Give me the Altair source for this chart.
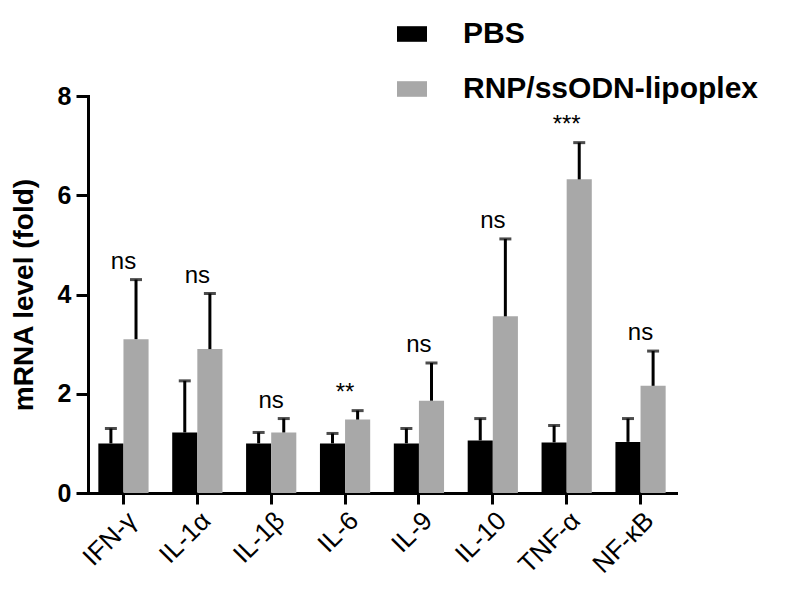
import altair as alt
import pandas as pd

categories = ["IFN-γ", "IL-1α", "IL-1β", "IL-6", "IL-9", "IL-10", "TNF-α", "NF-κB"]
groups = ["PBS", "RNP/ssODN-lipoplex"]
pbs_mean = [1.0, 1.22, 1.0, 1.0, 1.0, 1.06, 1.02, 1.03]
pbs_upper = [1.3, 2.26, 1.22, 1.2, 1.3, 1.5, 1.36, 1.5]
rnp_mean = [3.1, 2.9, 1.22, 1.48, 1.86, 3.56, 6.32, 2.16]
rnp_upper = [4.3, 4.02, 1.5, 1.66, 2.62, 5.12, 7.06, 2.86]
significance = ["ns", "ns", "ns", "**", "ns", "ns", "***", "ns"]

rows = []
for i, c in enumerate(categories):
    rows.append({"gene": c, "group": groups[0], "mean": pbs_mean[i], "upper": pbs_upper[i]})
    rows.append({"gene": c, "group": groups[1], "mean": rnp_mean[i], "upper": rnp_upper[i]})
df = pd.DataFrame(rows)

sig_df = pd.DataFrame({
    "gene": categories,
    "label": significance,
    "top": [max(a, b) for a, b in zip(pbs_upper, rnp_upper)],
})

FONT = "Liberation Sans"

x_enc = alt.X("gene:N", sort=categories,
              scale=alt.Scale(paddingInner=0.32, paddingOuter=0.14),
              axis=alt.Axis(title=None, labelAngle=-45, labelFontSize=26,
                            labelFont=FONT, labelColor="black", labelPadding=3,
                            labelAlign="right", labelBaseline="top",
                            domainWidth=3, domainColor="black", tickWidth=3,
                            tickColor="black", tickSize=11))
xoff = alt.XOffset("group:N", sort=groups, scale=alt.Scale(paddingInner=0, paddingOuter=0))

color_scale = alt.Scale(domain=groups, range=["#000000", "#a8a8a8"])

bars = alt.Chart(df).mark_bar().encode(
    x=x_enc,
    xOffset=xoff,
    y=alt.Y("mean:Q", scale=alt.Scale(domain=[0, 8]),
            axis=alt.Axis(title="mRNA level (fold)", values=[0, 2, 4, 6, 8],
                          titleFontSize=28, titleFont=FONT, titleFontWeight="bold",
                          titleColor="black", titlePadding=19,
                          labelFontSize=25, labelFont=FONT, labelFontWeight="bold",
                          labelColor="black", labelPadding=5,
                          domainWidth=3, domainColor="black", tickWidth=3,
                          tickColor="black", tickSize=12, grid=False)),
    color=alt.Color("group:N", scale=color_scale, sort=groups,
                    legend=alt.Legend(title=None, orient="none", legendX=309, legendY=-77,
                                      symbolType="M-1,-0.52L1,-0.52L1,0.52L-1,0.52Z",
                                      symbolSize=900, symbolStrokeWidth=0,
                                      labelFontSize=30, labelFont=FONT,
                                      labelFontWeight="bold", labelColor="black",
                                      labelOffset=36, rowPadding=25, labelLimit=500)),
)

rules = alt.Chart(df).mark_rule(color="black", strokeWidth=3).encode(
    x=alt.X("gene:N", sort=categories), xOffset=xoff,
    y="mean:Q", y2="upper:Q",
)

caps = alt.Chart(df).mark_tick(color="black", thickness=3, size=12, orient="horizontal").encode(
    x=alt.X("gene:N", sort=categories), xOffset=xoff,
    y="upper:Q",
)

labels = alt.Chart(sig_df).transform_calculate(ypos="datum.top + 0.36").mark_text(
    fontSize=24, font=FONT, color="black", baseline="middle"
).encode(
    x=alt.X("gene:N", sort=categories),
    y="ypos:Q",
    text="label:N",
)

chart = alt.layer(bars, rules, caps, labels).properties(
    width=588, height=397,
    autosize=alt.AutoSizeParams(type="none"),
    padding={"left": 88, "top": 96, "right": 110, "bottom": 104},
).configure_view(stroke=None).configure_axis(domainCap="square")

chart.save("out.html", embed_options={"renderer": "svg", "actions": False})
